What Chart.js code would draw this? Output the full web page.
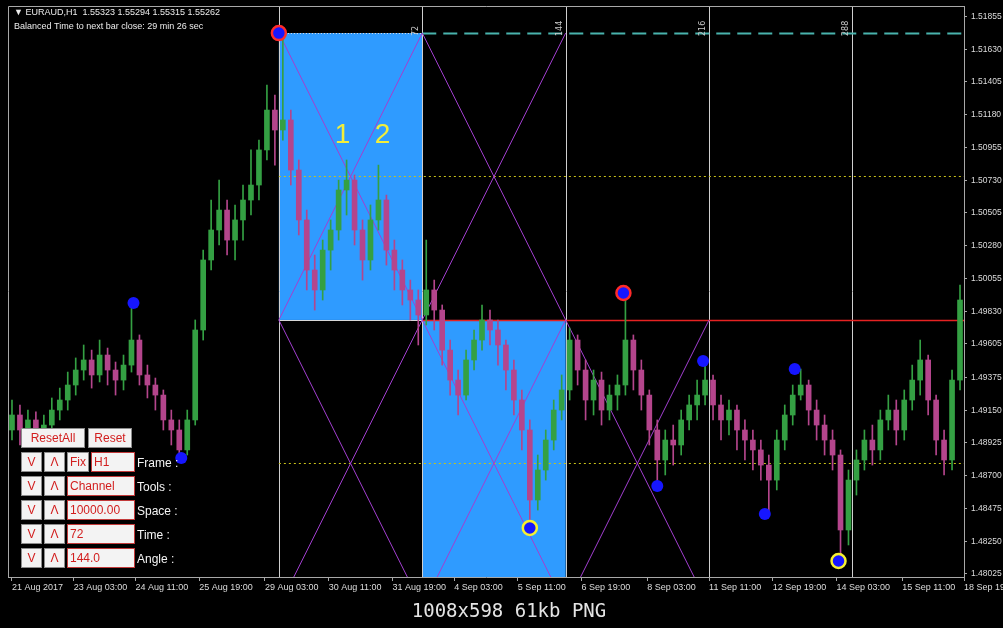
<!DOCTYPE html>
<html>
<head>
<meta charset="utf-8">
<script src="https://cdn.jsdelivr.net/npm/chart.js@4.4.1/dist/chart.umd.min.js"></script>
<style>
  html, body { margin: 0; padding: 0; background: #000; overflow: hidden; }
  #c { display: block; width: 1003px; height: 628px; }
</style>
</head>
<body>
<canvas id="c" width="1003" height="628"></canvas>
<script>
/* EURAUD H1 with a time/price grid tool, rebuilt in Chart.js.
   Candles at 4 H1 bars per candle. */

const BARS_PER_CANDLE = 4;

const OPEN = [
  1.49014,1.49117,1.49014,1.49083,1.48980,1.49048,1.49151,1.49220,1.49323,1.49426,
  1.49495,1.49392,1.49529,1.49426,1.49357,1.49460,1.49632,1.49392,1.49323,1.49254,
  1.49083,1.49014,1.48877,1.49083,1.49701,1.50182,1.50388,1.50525,1.50319,1.50457,
  1.50594,1.50697,1.50938,1.51212,1.51075,1.51144,1.50800,1.50457,1.50113,1.49976,
  1.50250,1.50388,1.50663,1.50731,1.50388,1.50182,1.50457,1.50594,1.50250,1.50113,
  1.49976,1.49907,1.49804,1.49976,1.49838,1.49563,1.49357,1.49254,1.49495,1.49632,
  1.49770,1.49701,1.49598,1.49426,1.49220,1.49014,1.48533,1.48739,1.48945,1.49151,
  1.49289,1.49632,1.49426,1.49220,1.49357,1.49151,1.49254,1.49323,1.49632,1.49426,
  1.49254,1.49014,1.48808,1.48945,1.48911,1.49083,1.49186,1.49254,1.49357,1.49186,
  1.49083,1.49151,1.49014,1.48945,1.48877,1.48773,1.48670,1.48945,1.49117,1.49254,
  1.49323,1.49151,1.49048,1.48945,1.48842,1.48327,1.48670,1.48808,1.48945,1.48877,
  1.49083,1.49151,1.49014,1.49220,1.49357,1.49495,1.49220,1.48945,1.48808,1.49357
];
const HIGH = [
  1.49220,1.49186,1.49151,1.49138,1.49117,1.49234,1.49302,1.49412,1.49509,1.49598,
  1.49563,1.49632,1.49577,1.49481,1.49529,1.49886,1.49667,1.49460,1.49371,1.49289,
  1.49151,1.49083,1.49151,1.49770,1.50250,1.50594,1.50731,1.50594,1.50560,1.50697,
  1.50938,1.51006,1.51384,1.51315,1.51728,1.51212,1.50869,1.50525,1.50216,1.50319,
  1.50457,1.50731,1.50869,1.50766,1.50457,1.50560,1.50834,1.50628,1.50319,1.50182,
  1.50044,1.49976,1.50319,1.50044,1.49873,1.49632,1.49426,1.49563,1.49701,1.49873,
  1.49838,1.49770,1.49632,1.49495,1.49289,1.49083,1.48842,1.49014,1.49220,1.49392,
  1.49715,1.49667,1.49495,1.49426,1.49412,1.49323,1.49392,1.49955,1.49667,1.49495,
  1.49289,1.49083,1.49014,1.49048,1.49151,1.49254,1.49357,1.49488,1.49392,1.49254,
  1.49220,1.49186,1.49083,1.49014,1.48945,1.48842,1.49014,1.49186,1.49323,1.49433,
  1.49357,1.49220,1.49117,1.49014,1.48877,1.48739,1.48877,1.49014,1.49048,1.49151,
  1.49254,1.49220,1.49289,1.49460,1.49632,1.49529,1.49254,1.49014,1.49426,1.50010
];
const LOW = [
  1.48945,1.48911,1.48945,1.48911,1.48945,1.49000,1.49083,1.49151,1.49254,1.49357,
  1.49302,1.49344,1.49323,1.49254,1.49289,1.49412,1.49323,1.49234,1.49151,1.49014,
  1.48911,1.48822,1.48842,1.49048,1.49632,1.50113,1.50285,1.50216,1.50182,1.50319,
  1.50491,1.50594,1.50869,1.50834,1.51006,1.50697,1.50354,1.49976,1.49838,1.49907,
  1.50113,1.50319,1.50491,1.50285,1.50044,1.50113,1.50388,1.50147,1.49976,1.49873,
  1.49770,1.49598,1.49735,1.49701,1.49460,1.49254,1.49117,1.49220,1.49426,1.49563,
  1.49598,1.49460,1.49289,1.49117,1.48877,1.48341,1.48464,1.48670,1.48877,1.49083,
  1.49220,1.49323,1.49083,1.49117,1.49048,1.49083,1.49151,1.49254,1.49289,1.49151,
  1.48911,1.48629,1.48705,1.48773,1.48842,1.49014,1.49083,1.49186,1.49083,1.48945,
  1.48980,1.48877,1.48808,1.48739,1.48670,1.48437,1.48602,1.48877,1.49048,1.49220,
  1.49048,1.48945,1.48842,1.48739,1.48114,1.48224,1.48567,1.48739,1.48773,1.48808,
  1.49014,1.48911,1.48945,1.49151,1.49254,1.49117,1.48842,1.48705,1.48739,1.49289
];
const CLOSE = [
  1.49117,1.49014,1.49083,1.48980,1.49048,1.49151,1.49220,1.49323,1.49426,1.49495,
  1.49392,1.49529,1.49426,1.49357,1.49460,1.49632,1.49392,1.49323,1.49254,1.49083,
  1.49014,1.48877,1.49083,1.49701,1.50182,1.50388,1.50525,1.50319,1.50457,1.50594,
  1.50697,1.50938,1.51212,1.51075,1.51144,1.50800,1.50457,1.50113,1.49976,1.50250,
  1.50388,1.50663,1.50731,1.50388,1.50182,1.50457,1.50594,1.50250,1.50113,1.49976,
  1.49907,1.49804,1.49976,1.49838,1.49563,1.49357,1.49254,1.49495,1.49632,1.49770,
  1.49701,1.49598,1.49426,1.49220,1.49014,1.48533,1.48739,1.48945,1.49151,1.49289,
  1.49632,1.49426,1.49220,1.49357,1.49151,1.49254,1.49323,1.49632,1.49426,1.49254,
  1.49014,1.48808,1.48945,1.48911,1.49083,1.49186,1.49254,1.49357,1.49186,1.49083,
  1.49151,1.49014,1.48945,1.48877,1.48773,1.48670,1.48945,1.49117,1.49254,1.49323,
  1.49151,1.49048,1.48945,1.48842,1.48327,1.48670,1.48808,1.48945,1.48877,1.49083,
  1.49151,1.49014,1.49220,1.49357,1.49495,1.49220,1.48945,1.48808,1.49357,1.49907
];

// right price axis
const Y_TICKS = [1.51855,1.51630,1.51405,1.51180,1.50955,1.50730,1.50505,1.50280,1.50055,
                 1.49830,1.49605,1.49375,1.49150,1.48925,1.48700,1.48475,1.48250,1.48025];
// time axis (H1 bar index → label)
const X_TICK_BARS = [2, 33, 64, 96, 129, 161, 193, 224, 256, 288, 321, 352, 384, 416, 449, 480];
const X_TICK_LABELS = ['21 Aug 2017','23 Aug 03:00','24 Aug 11:00','25 Aug 19:00','29 Aug 03:00',
  '30 Aug 11:00','31 Aug 19:00','4 Sep 03:00','5 Sep 11:00','6 Sep 19:00','8 Sep 03:00',
  '11 Sep 11:00','12 Sep 19:00','14 Sep 03:00','15 Sep 11:00','18 Sep 19:00'];

// grid tool: time lines every 72 bars, price rows of the channel
const VLINE_BARS = [136, 208, 280, 352, 424];
const VLINE_LABELS = ['', '72', '144', '216', '288'];
const GRID_PRICES = [1.51741, 1.49770, 1.47799];
const MID_LEVELS = [1.50756, 1.48785];
const FILLED_CELLS = [[0, 0], [1, 1]];
const CROSS_CELLS = [[0, 0], [1, 0], [0, 1], [1, 1], [2, 1]];

// swing markers
const DOT_BARS  = [63, 87, 326, 349, 380, 395, 136, 309, 262, 417];
const DOT_PRICE = [1.49886, 1.48822, 1.48629, 1.49488, 1.48437, 1.49433, 1.51741, 1.49955, 1.48341, 1.48114];
const DOT_RING  = ['none','none','none','none','none','none','red','red','yellow','yellow'];

const NUM_TEXT  = ['1', '2'];
const NUM_BARS  = [168, 188];
const NUM_PRICE = [1.51041, 1.51041];

const UP = '#34a043', DOWN = '#b4458c', BOX_BLUE = '#2f9bff', VLINE = '#cfcfcf',
      PURPLE = '#a23fd0', AXIS = '#a8a8a8', TXT = '#dcdcdc';

const candleColor = (c) => {
  const i = c.dataIndex;
  if (i === undefined) return UP;
  return CLOSE[i] >= OPEN[i] ? UP : DOWN;
};
const candleX = (i) => i * BARS_PER_CANDLE + BARS_PER_CANDLE / 2;

/* ---- grid tool overlay (under the candles) ---- */
const gridTool = {
  id: 'gridTool',
  beforeDatasetsDraw(chart) {
    const { ctx, chartArea: a, scales: { x, y } } = chart;
    const X = v => x.getPixelForValue(v), Y = v => y.getPixelForValue(v);
    const hline = (p, b0, b1, color, width, dash) => {
      const py = Math.round(Y(p)) + 0.5;
      ctx.strokeStyle = color; ctx.lineWidth = width; ctx.setLineDash(dash);
      ctx.beginPath(); ctx.moveTo(X(b0), py); ctx.lineTo(X(b1), py); ctx.stroke();
    };
    ctx.save();
    ctx.beginPath(); ctx.rect(a.left, a.top, a.width, a.height); ctx.clip();

    ctx.fillStyle = BOX_BLUE;
    FILLED_CELLS.forEach(([c, r]) => {
      const x0 = X(VLINE_BARS[c]), x1 = X(VLINE_BARS[c + 1]);
      const y0 = Y(GRID_PRICES[r]), y1 = Y(GRID_PRICES[r + 1]);
      ctx.fillRect(x0, y0, x1 - x0, y1 - y0);
    });

    // vertical time lines
    ctx.strokeStyle = VLINE; ctx.lineWidth = 1;
    VLINE_BARS.forEach(b => {
      const px = Math.round(X(b)) + 0.5;
      ctx.beginPath(); ctx.moveTo(px, a.top); ctx.lineTo(px, a.bottom); ctx.stroke();
    });

    // horizontal levels
    hline(GRID_PRICES[0], VLINE_BARS[0], VLINE_BARS[1], '#e8e8e8', 1, [1, 2]);
    hline(GRID_PRICES[0], VLINE_BARS[1], x.max, '#49b3ad', 2, [14, 7]);
    hline(GRID_PRICES[1], VLINE_BARS[0], VLINE_BARS[1], '#d8d8d8', 1, []);
    hline(GRID_PRICES[1], VLINE_BARS[1], x.max, '#e52222', 1.5, []);
    MID_LEVELS.forEach(p => hline(p, VLINE_BARS[0], x.max, '#c9c21a', 1, [2, 3]));

    // diagonals
    ctx.setLineDash([]); ctx.strokeStyle = PURPLE; ctx.lineWidth = 1;
    CROSS_CELLS.forEach(([c, r]) => {
      const x0 = X(VLINE_BARS[c]), x1 = X(VLINE_BARS[c + 1]);
      const y0 = Y(GRID_PRICES[r]), y1 = Y(GRID_PRICES[r + 1]);
      ctx.beginPath();
      ctx.moveTo(x0, y0); ctx.lineTo(x1, y1);
      ctx.moveTo(x0, y1); ctx.lineTo(x1, y0);
      ctx.stroke();
    });
    ctx.restore();
  },

  afterDraw(chart) {
    const { ctx, chartArea: a, scales: { x, y } } = chart;
    const X = v => x.getPixelForValue(v), Y = v => y.getPixelForValue(v);
    ctx.save();

    // frame top / left
    ctx.strokeStyle = AXIS; ctx.lineWidth = 1;
    ctx.beginPath();
    ctx.moveTo(a.left + 0.5, a.bottom); ctx.lineTo(a.left + 0.5, a.top + 0.5); ctx.lineTo(a.right, a.top + 0.5);
    ctx.stroke();

    // vline captions (rotated)
    ctx.fillStyle = '#c8c8c8'; ctx.font = '8px "DejaVu Sans"';
    ctx.textAlign = 'left'; ctx.textBaseline = 'bottom';
    VLINE_BARS.forEach((b, i) => {
      if (!VLINE_LABELS[i]) return;
      ctx.save();
      ctx.translate(Math.round(X(b)) - 2, a.top + 30);
      ctx.rotate(-Math.PI / 2);
      ctx.fillText(VLINE_LABELS[i], 0, 0);
      ctx.restore();
    });

    // big yellow numbers
    ctx.fillStyle = '#f2ee3a'; ctx.font = '28px "Liberation Sans"';
    ctx.textAlign = 'center'; ctx.textBaseline = 'middle';
    NUM_TEXT.forEach((t, i) => ctx.fillText(t, X(NUM_BARS[i]), Y(NUM_PRICE[i])));

    // header text
    ctx.fillStyle = '#ececec'; ctx.font = '9px "Liberation Sans"';
    ctx.textAlign = 'left'; ctx.textBaseline = 'middle';
    ctx.fillText('\u25BC EURAUD,H1  1.55323 1.55294 1.55315 1.55262', 14, 13);
    ctx.fillText('Balanced Time to next bar close: 29 min 26 sec', 14, 27);

    // control panel
    const btn = (x0, y0, w, h, text, field) => {
      ctx.fillStyle = '#f3f3f3'; ctx.fillRect(x0, y0, w, h);
      ctx.strokeStyle = field ? '#c23a3a' : '#8c8c8c'; ctx.lineWidth = 1;
      ctx.strokeRect(x0 + 0.5, y0 + 0.5, w - 1, h - 1);
      ctx.save();
      ctx.beginPath(); ctx.rect(x0 + 1, y0 + 1, w - 2, h - 2); ctx.clip();
      ctx.fillStyle = '#d21e1e'; ctx.font = '12px "Liberation Sans"'; ctx.textBaseline = 'middle';
      if (field) { ctx.textAlign = 'left'; ctx.fillText(text, x0 + 3, y0 + h / 2 + 1); }
      else { ctx.textAlign = 'center'; ctx.fillText(text, x0 + w / 2, y0 + h / 2 + 1); }
      ctx.restore();
    };
    btn(21, 428, 64, 20, 'ResetAll', false);
    btn(88, 428, 44, 20, 'Reset', false);
    const rows = [['H1', 'Frame :'], ['Channel', 'Tools :'], ['10000.00', 'Space :'], ['72', 'Time :'], ['144.0', 'Angle :']];
    rows.forEach(([val, name], r) => {
      const ry = 452 + r * 24;
      btn(21, ry, 21, 20, 'V', false);
      btn(44, ry, 21, 20, '\u039B', false);
      if (r === 0) { btn(67, ry, 22, 20, 'Fix', false); btn(91, ry, 44, 20, val, true); }
      else btn(67, ry, 68, 20, val, true);
      ctx.fillStyle = '#f4f4f4'; ctx.font = '12px "Liberation Sans"';
      ctx.textAlign = 'left'; ctx.textBaseline = 'middle';
      ctx.fillText(name, 137, ry + 12);
    });

    // caption under the picture
    ctx.fillStyle = '#e4e4e4'; ctx.font = '19px "DejaVu Sans Mono"';
    ctx.textAlign = 'center'; ctx.textBaseline = 'middle';
    ctx.fillText('1008x598 61kb PNG', 509, 612);
    ctx.restore();
  }
};

new Chart(document.getElementById('c'), {
  type: 'bar',
  data: {
    datasets: [
      {
        type: 'scatter',
        data: DOT_BARS.map((b, i) => ({ x: b, y: DOT_PRICE[i] })),
        pointStyle: 'circle',
        pointRadius: DOT_RING.map(r => r === 'none' ? 6 : 7),
        pointBackgroundColor: '#1616ff',
        pointBorderColor: DOT_RING.map(r => r === 'red' ? '#ff2a2a' : r === 'yellow' ? '#f6f030' : '#1616ff'),
        pointBorderWidth: DOT_RING.map(r => r === 'none' ? 0 : 2.5),
        clip: false
      },
      {
        label: 'body',
        data: OPEN.map((o, i) => ({ x: candleX(i), y: [o, CLOSE[i]] })),
        backgroundColor: candleColor, borderWidth: 0, barThickness: 5, grouped: false
      },
      {
        label: 'wick',
        data: LOW.map((l, i) => ({ x: candleX(i), y: [l, HIGH[i]] })),
        backgroundColor: candleColor, borderWidth: 0, barThickness: 1, grouped: false
      }
    ]
  },
  options: {
    responsive: false, animation: false, events: [],
    layout: { padding: { left: 8, top: 6, right: 0, bottom: 30 }, autoPadding: false },
    plugins: { legend: { display: false }, tooltip: { enabled: false } },
    scales: {
      x: {
        type: 'linear', min: 0, max: 480, offset: false, position: 'bottom',
        grid: { drawOnChartArea: false, drawTicks: true, tickLength: 4, color: AXIS, offset: false },
        border: { display: true, color: AXIS },
        ticks: {
          autoSkip: false, maxRotation: 0, minRotation: 0, align: 'start', padding: 1,
          color: TXT, font: { family: 'Liberation Sans', size: 9 },
          callback: (v, i) => X_TICK_LABELS[i]
        },
        afterBuildTicks: s => { s.ticks = X_TICK_BARS.map(v => ({ value: v })); },
        afterFit: s => { s.height = 21; s.paddingLeft = 0; s.paddingRight = 0; }
      },
      y: {
        position: 'right', min: 1.48004, max: 1.51927,
        grid: { drawOnChartArea: false, drawTicks: true, tickLength: 3, color: AXIS },
        border: { display: true, color: AXIS },
        ticks: {
          padding: 4, color: TXT, font: { family: 'Liberation Sans', size: 8.5 },
          callback: (v, i) => Y_TICKS[i].toFixed(5)
        },
        afterBuildTicks: s => { s.ticks = Y_TICKS.map(v => ({ value: v })); },
        afterFit: s => { s.width = 39; s.paddingTop = 0; s.paddingBottom = 0; }
      }
    }
  },
  plugins: [gridTool]
});
</script>
</body>
</html>
